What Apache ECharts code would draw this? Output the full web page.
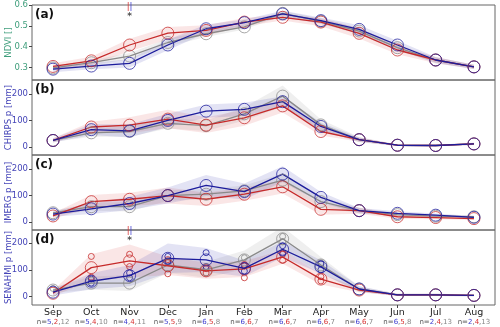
<!DOCTYPE html>
<html>
<head>
<meta charset="utf-8">
<script src="https://cdn.jsdelivr.net/npm/echarts@6/dist/echarts.min.js"></script>
<style>
  html, body { margin: 0; padding: 0; background: #fff; }
  #chart { width: 500px; height: 327px; }
</style>
</head>
<body>
<div id="chart"></div>
<script>
'use strict';

// 月份与样本数
var months = ['Sep', 'Oct', 'Nov', 'Dec', 'Jan', 'Feb', 'Mar', 'Apr', 'May', 'Jun', 'Jul', 'Aug'];
var nBlue = [5, 5, 4, 5, 6, 6, 6, 6, 6, 6, 2, 2];
var nRed = [2, 4, 4, 5, 5, 6, 6, 6, 6, 5, 4, 4];
var nGray = [12, 10, 11, 9, 8, 7, 7, 7, 7, 8, 13, 13];

var ndviTicks = [0.3, 0.4, 0.5, 0.6];
var precipTicks = [0, 100, 200];

// (a) NDVI
var ndviBlue = [0.292, 0.307, 0.320, 0.408, 0.486, 0.515, 0.557, 0.525, 0.483, 0.408, 0.336, 0.303];
var ndviRed = [0.305, 0.332, 0.408, 0.465, 0.478, 0.518, 0.541, 0.518, 0.464, 0.384, 0.336, 0.303];
var ndviGray = [0.298, 0.323, 0.355, 0.420, 0.462, 0.495, 0.560, 0.522, 0.475, 0.395, 0.336, 0.303];
var ndviSdBlue = [0.015, 0.015, 0.02, 0.025, 0.02, 0.015, 0.015, 0.015, 0.02, 0.02, 0.015, 0.01];
var ndviSdRed = [0.015, 0.02, 0.03, 0.03, 0.025, 0.02, 0.015, 0.02, 0.025, 0.02, 0.015, 0.01];
var ndviSdGray = [0.01, 0.012, 0.015, 0.018, 0.015, 0.012, 0.012, 0.012, 0.015, 0.015, 0.012, 0.01];

// (b) CHIRPS
var chBlue = [24, 65, 60, 100, 135, 142, 171, 77, 27, 6, 5, 11];
var chRed = [24, 75, 82, 105, 82, 110, 155, 58, 27, 6, 5, 11];
var chGray = [24, 53, 58, 89, 80, 125, 192, 83, 27, 6, 5, 11];
var chSdBlue = [8, 20, 25, 25, 25, 25, 20, 15, 8, 3, 3, 4];
var chSdRed = [8, 20, 30, 35, 30, 30, 25, 15, 8, 3, 3, 4];
var chSdGray = [6, 15, 20, 20, 20, 25, 40, 20, 10, 3, 3, 4];

// (c) IMERG
var imBlue = [30, 50, 70, 100, 138, 115, 181, 93, 43, 33, 26, 18];
var imRed = [23, 77, 86, 100, 86, 105, 133, 48, 43, 20, 17, 13];
var imGray = [35, 58, 58, 100, 105, 118, 158, 77, 43, 28, 22, 20];
var imSdBlue = [10, 20, 25, 30, 40, 30, 30, 20, 10, 8, 6, 5];
var imSdRed = [10, 25, 25, 30, 25, 25, 25, 20, 12, 8, 6, 5];
var imSdGray = [8, 15, 18, 20, 20, 20, 25, 20, 10, 6, 5, 5];

// (d) SENAHMI
var seBlue = [16, 57, 78, 143, 137, 105, 177, 111, 28, 6, 6, 4];
var seRed = [12, 108, 133, 115, 96, 103, 148, 65, 24, 6, 6, 4];
var seGray = [24, 50, 50, 118, 100, 137, 216, 118, 28, 6, 6, 4];
var seSdBlue = [12, 30, 40, 55, 45, 30, 30, 25, 10, 4, 4, 3];
var seSdRed = [10, 50, 62, 35, 30, 30, 25, 20, 8, 4, 4, 3];
var seSdGray = [10, 25, 30, 30, 30, 35, 45, 30, 10, 4, 4, 3];

// (d) 单站点数值（小圆圈）
var sePtsBlue = [[1, 50], [1, 65], [2, 70], [2, 88], [3, 132], [3, 150], [4, 164], [4, 112], [5, 95], [5, 115], [6, 162], [6, 190], [7, 100], [7, 122]];
var sePtsRed = [[1, 150], [1, 72], [2, 158], [2, 112], [3, 85], [3, 138], [4, 88], [4, 104], [5, 70], [5, 120], [6, 135], [6, 158], [7, 58], [7, 74]];
var sePtsGray = [[0, 30], [3, 128], [5, 145], [6, 225], [6, 205], [7, 126]];

var BLUE = '#1c1c9c';
var RED = '#c62a2a';
var GRAY = '#8a8a8a';
var BAND = {};
BAND[BLUE] = 'rgba(40,40,170,0.13)';
BAND[RED] = 'rgba(210,50,50,0.12)';
BAND[GRAY] = 'rgba(120,120,120,0.12)';

var panelTop = [5, 80, 155, 230];
var panelH = 75;

function pairs(arr) {
  return arr.map(function(v, i) { return [i, v]; });
}

var grids = [];
var xAxes = [];
var yAxes = [];
var series = [];
var graphics = [];

var yNames = ['NDVI []', 'CHIRPS p [mm]', 'IMERG p [mm]', 'SENAHMI p [mm]'];
var yRanges = [[0.24, 0.6], [-31, 253], [-30, 253], [-32, 249]];
var letters = ['(a)', '(b)', '(c)', '(d)'];
var monthIdx = months.map(function(m, i) { return i; });

for (var g = 0; g < 4; g++) {
  grids.push({
    left: 32, width: 463, top: panelTop[g], height: panelH,
    outerBoundsMode: 'none', containLabel: false,
    show: true, borderColor: '#666', borderWidth: 1, backgroundColor: 'transparent'
  });
  var last = g === 3;
  xAxes.push({
    type: 'value', gridIndex: g, min: -0.55, max: 11.55, position: 'bottom',
    splitLine: { show: false },
    axisLine: { show: false, onZero: false },
    axisTick: { show: last, customValues: monthIdx, length: 3, lineStyle: { color: '#444' } },
    axisLabel: {
      show: last,
      customValues: monthIdx,
      margin: 3,
      fontFamily: 'DejaVu Sans', fontSize: 9.5, color: '#222', lineHeight: 10,
      formatter: function(v) {
        var i = Math.round(v);
        return months[i] + '\n{n|n=}{b|' + nBlue[i] + '}{n|,}{r|' + nRed[i] + '}{n|,}{g|' + nGray[i] + '}';
      },
      rich: {
        n: { fontSize: 7, color: '#555', fontFamily: 'DejaVu Sans', lineHeight: 9 },
        b: { fontSize: 7, color: '#3a3ad0', fontFamily: 'DejaVu Sans', lineHeight: 9 },
        r: { fontSize: 7, color: '#d83030', fontFamily: 'DejaVu Sans', lineHeight: 9 },
        g: { fontSize: 7, color: '#888', fontFamily: 'DejaVu Sans', lineHeight: 9 }
      }
    }
  });
  var nameColor = g === 0 ? '#3f9e7c' : '#4545b8';
  yAxes.push({
    type: 'value', gridIndex: g, min: yRanges[g][0], max: yRanges[g][1], position: 'left',
    name: yNames[g], nameLocation: 'middle', nameGap: 19, nameMoveOverlap: false,
    nameTextStyle: { color: nameColor, fontSize: 8.5, fontFamily: 'DejaVu Sans' },
    splitLine: { show: false },
    axisLine: { show: false, onZero: false },
    axisTick: { show: true, length: 3, customValues: g === 0 ? ndviTicks : precipTicks, lineStyle: { color: '#444' } },
    axisLabel: {
      customValues: g === 0 ? ndviTicks : precipTicks,
      margin: 4, fontSize: 8.5, color: nameColor, fontFamily: 'DejaVu Sans',
      formatter: g === 0 ? function(v) { return v.toFixed(1); } : function(v) { return String(v); }
    }
  });
  graphics.push({
    type: 'text', left: 35, top: panelTop[g] + 4,
    style: { text: letters[g], font: 'bold 12px "DejaVu Sans"', fill: '#111' }
  });
}

// 阴影带：用 custom 多边形画 mean ± sd
function addBand(gi, mean, sd, color) {
  var rows = mean.map(function(v, i) { return [i, v - sd[i], v + sd[i]]; });
  series.push({
    type: 'custom', xAxisIndex: gi, yAxisIndex: gi, data: rows, silent: true, z: 1,
    clip: true,
    renderItem: function(params, api) {
      if (params.dataIndex !== 0) return;
      var pts = [];
      for (var i = 0; i < rows.length; i++) pts.push(api.coord([rows[i][0], rows[i][2]]));
      for (var j = rows.length - 1; j >= 0; j--) pts.push(api.coord([rows[j][0], rows[j][1]]));
      return {
        type: 'polygon',
        shape: { points: pts },
        style: { fill: BAND[color] }
      };
    }
  });
}

function addMean(gi, mean, color) {
  series.push({
    type: 'line', xAxisIndex: gi, yAxisIndex: gi, data: pairs(mean),
    symbol: 'circle', symbolSize: 12, showAllSymbol: true,
    lineStyle: { color: color, width: 1.3 },
    itemStyle: { color: 'rgba(255,255,255,0)', borderColor: color, borderWidth: 1, opacity: 0.75 },
    z: 3
  });
}

var panels = [
  [ndviBlue, ndviRed, ndviGray, ndviSdBlue, ndviSdRed, ndviSdGray],
  [chBlue, chRed, chGray, chSdBlue, chSdRed, chSdGray],
  [imBlue, imRed, imGray, imSdBlue, imSdRed, imSdGray],
  [seBlue, seRed, seGray, seSdBlue, seSdRed, seSdGray]
];

panels.forEach(function(p, gi) {
  addBand(gi, p[2], p[5], GRAY);
  addBand(gi, p[1], p[4], RED);
  addBand(gi, p[0], p[3], BLUE);
  addMean(gi, p[2], GRAY);
  addMean(gi, p[1], RED);
  addMean(gi, p[0], BLUE);
});

// 单站点小圆圈
[[sePtsGray, GRAY], [sePtsRed, RED], [sePtsBlue, BLUE]].forEach(function(s) {
  series.push({
    type: 'scatter', xAxisIndex: 3, yAxisIndex: 3, data: s[0],
    symbol: 'circle', symbolSize: 6,
    itemStyle: { color: 'rgba(255,255,255,0)', borderColor: s[1], borderWidth: 1, opacity: 0.8 },
    z: 2
  });
});

// 显著性标记
function addMark(gi, y1, y2) {
  series.push({
    type: 'scatter', xAxisIndex: gi, yAxisIndex: gi, symbolSize: 0, silent: true, z: 5,
    data: [[2, y1]],
    label: {
      show: true, position: 'inside', formatter: '{r||}{b||}',
      rich: {
        r: { color: '#d83030', fontSize: 8, fontWeight: 'bold', fontFamily: 'DejaVu Sans' },
        b: { color: '#3a3ad0', fontSize: 8, fontWeight: 'bold', fontFamily: 'DejaVu Sans' }
      }
    }
  });
  series.push({
    type: 'scatter', xAxisIndex: gi, yAxisIndex: gi, symbolSize: 0, silent: true, z: 5,
    data: [[2, y2]],
    label: { show: true, position: 'inside', formatter: '*', color: '#222', fontSize: 9, fontWeight: 'bold', fontFamily: 'DejaVu Sans' }
  });
}
addMark(0, 0.59, 0.545);
addMark(3, 245, 210);

var chart = echarts.init(document.getElementById('chart'));
chart.setOption({
  animation: false,
  textStyle: { fontFamily: 'DejaVu Sans' },
  grid: grids,
  xAxis: xAxes,
  yAxis: yAxes,
  series: series,
  graphic: graphics
});
window.onresize = chart.resize;
</script>
</body>
</html>
